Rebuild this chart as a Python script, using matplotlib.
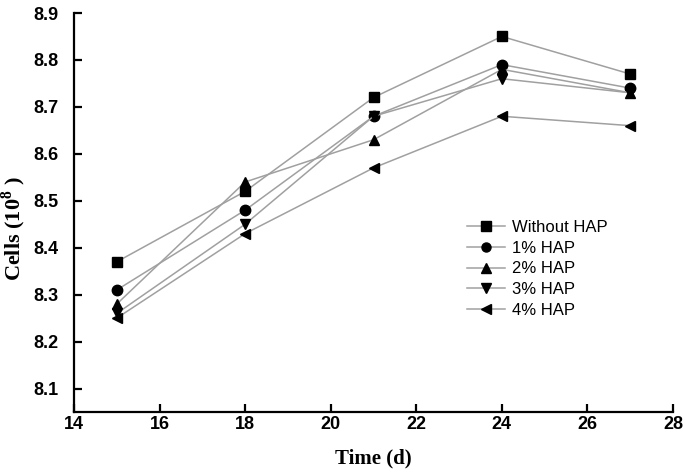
import matplotlib
matplotlib.use("Agg")
import matplotlib.pyplot as plt

days = [15, 18, 21, 24, 27]
without_hap = [8.37, 8.52, 8.72, 8.85, 8.77]
hap_1 = [8.31, 8.48, 8.68, 8.79, 8.74]
hap_2 = [8.28, 8.54, 8.63, 8.78, 8.73]
hap_3 = [8.26, 8.45, 8.68, 8.76, 8.73]
hap_4 = [8.25, 8.43, 8.57, 8.68, 8.66]

labels = ['Without HAP', '1% HAP', '2% HAP', '3% HAP', '4% HAP']
series = [without_hap, hap_1, hap_2, hap_3, hap_4]
markers = ['s', 'o', '^', 'v', '<']

plt.rcParams['mathtext.fontset'] = 'custom'
plt.rcParams['mathtext.rm'] = 'Liberation Serif:bold'
plt.rcParams['mathtext.bf'] = 'Liberation Serif:bold'

fig = plt.figure(figsize=(6.85, 4.74), dpi=100)
ax = fig.add_axes([74 / 685, 1 - 412 / 474, 599 / 685, 399 / 474])

for vals, lab, m in zip(series, labels, markers):
    ax.plot(days, vals, color='#a0a0a0', linewidth=1.1, marker=m,
            markersize=7.5, markerfacecolor='black', markeredgecolor='black',
            label=lab)

ax.set_xlim(14, 28)
ax.set_ylim(8.05, 8.9)
ax.set_xticks([14, 16, 18, 20, 22, 24, 26, 28])
ax.set_yticks([8.1, 8.2, 8.3, 8.4, 8.5, 8.6, 8.7, 8.8, 8.9])

ax.spines['top'].set_visible(False)
ax.spines['right'].set_visible(False)
for s in ['left', 'bottom']:
    ax.spines[s].set_linewidth(1.6)

ax.tick_params(direction='in', length=6, width=1.6, labelsize=13)
ax.tick_params(axis='x', pad=3)
ax.tick_params(axis='y', pad=11)
for t in ax.get_xticklabels() + ax.get_yticklabels():
    t.set_fontfamily('Liberation Sans')
    t.set_fontweight('bold')

ax.set_xlabel('Time (d)', fontfamily='Liberation Serif', fontweight='bold',
              fontsize=15, labelpad=11)
ax.set_ylabel('Cells (10$^{\\mathbf{8}}$ )', fontfamily='Liberation Serif',
              fontweight='bold', fontsize=16)
ax.yaxis.set_label_coords(-0.077, 0.46)

leg = ax.legend(loc='upper left', bbox_to_anchor=(0.656, 0.482), frameon=False,
                prop={'family': 'Liberation Sans', 'size': 12},
                handlelength=2.3, labelspacing=0.35, borderpad=0,
                borderaxespad=0, handletextpad=0.4)
for h in leg.legend_handles:
    h.set_markersize(6.5)

fig.savefig('out.png', dpi=100)
